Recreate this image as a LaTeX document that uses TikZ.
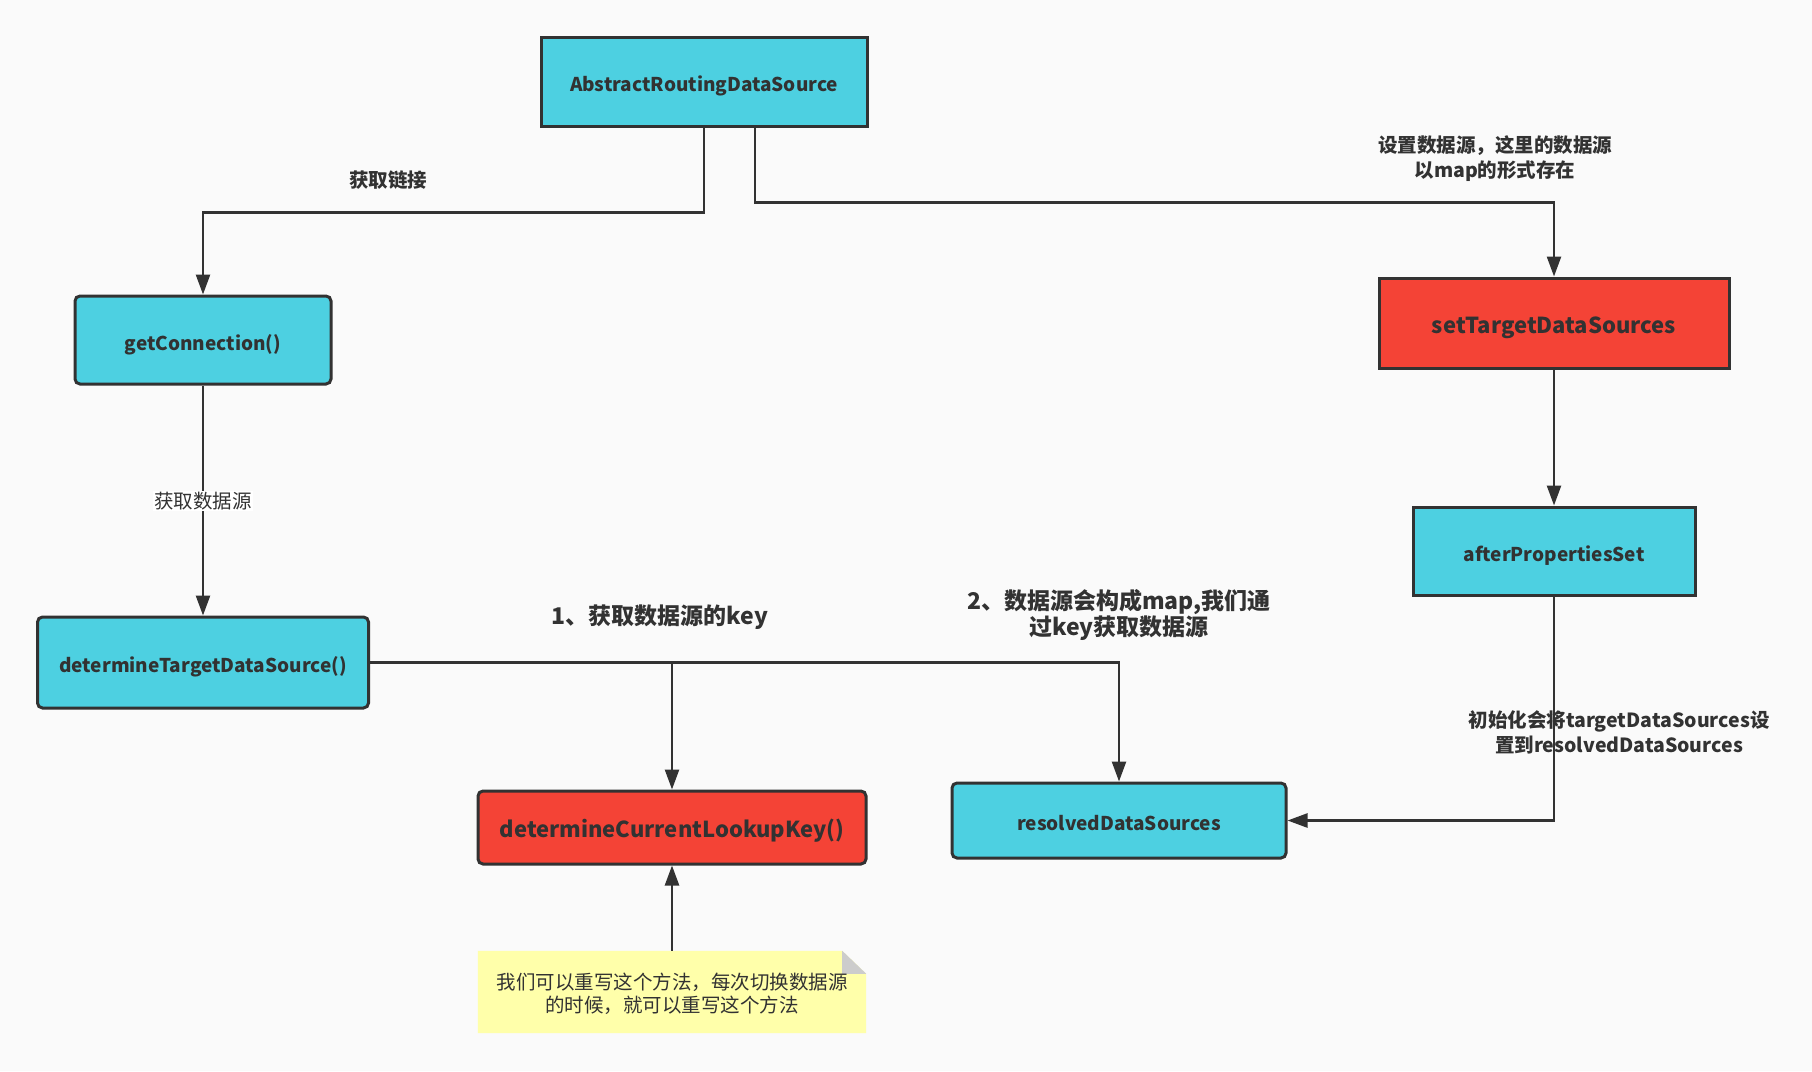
\documentclass[tikz,border=0pt]{standalone}
\usepackage{fontspec}
\setmainfont{Noto Sans CJK SC}
\usetikzlibrary{arrows.meta,calc}
\definecolor{bg}{HTML}{FAFAFA}
\definecolor{cy}{HTML}{4DD0E1}
\definecolor{rd}{HTML}{F44336}
\definecolor{ln}{HTML}{323232}
\definecolor{nt}{HTML}{FFFFAA}
\definecolor{fold}{HTML}{CCCCCC}
\begin{document}
\begin{tikzpicture}[x=1pt,y=-1pt,
 box/.style={draw=ln, line width=3pt, inner sep=0pt, text=ln, text height=22pt, text depth=2pt, font=\bfseries\fontsize{19}{23}\selectfont},
 cyanbox/.style={box, fill=cy},
 redbox/.style={box, fill=rd},
 rbox/.style={rounded corners=5pt},
 arr/.style={draw=ln, line width=2.5pt, -{Triangle[length=20pt,width=14pt]}},
 lbl/.style={text=ln, align=center, inner sep=1pt, font=\bfseries\fontsize{19.5}{25}\selectfont},
 biglbl/.style={text=ln, align=center, inner sep=1pt, font=\bfseries\fontsize{23}{26}\selectfont},
 plainlbl/.style={text=ln, align=center, inner sep=1pt, font=\fontsize{19.5}{23.5}\selectfont},
]
\fill[bg] (0,0) rectangle (1812,1071);
\useasboundingbox (0,0) rectangle (1812,1071);

\node[cyanbox, minimum width=326pt, minimum height=89pt] (ards) at (704,81.5) {AbstractRoutingDataSource};
\node[cyanbox, rbox, minimum width=256pt, minimum height=88pt] (getc) at (203,340) {getConnection()};
\node[cyanbox, rbox, minimum width=331pt, minimum height=91pt] (dts) at (203,662.5) {determineTargetDataSource()};
\node[redbox, minimum width=350pt, minimum height=90pt, font=\bfseries\fontsize{22}{26}\selectfont] (st) at (1554,323) {setTargetDataSources};
\node[cyanbox, minimum width=282pt, minimum height=88pt] (aps) at (1554,551) {afterPropertiesSet};
\node[redbox, rbox, minimum width=388pt, minimum height=73pt, font=\bfseries\fontsize{22}{26}\selectfont] (dcl) at (672,827.5) {determineCurrentLookupKey()};
\node[cyanbox, rbox, minimum width=334pt, minimum height=75pt] (rds) at (1119,820.5) {resolvedDataSources};

% note with folded corner
\node[minimum width=388pt, minimum height=82pt, inner sep=0pt] (note) at (672,992) {};
\fill[nt] (note.north west) -- ($(note.north east)+(-24,0)$) -- ($(note.north east)+(0,23)$) -- (note.south east) -- (note.south west) -- cycle;
\fill[fold] ($(note.north east)+(-24,0)$) -- ($(note.north east)+(0,23)$) -- ($(note.north east)+(-24,23)$) -- cycle;
\node[plainlbl] (notetext) at ($(note.center)+(0,2)$) {我们可以重写这个方法，每次切换数据源\\的时候，就可以重写这个方法};

% connectors
\draw[arr] (ards.south) -- ++(0,85) -| (getc.north);
\draw[arr] ($(ards.south)+(51,0)$) -- ++(0,75) -| (st.north);
\draw[arr] (st.south) -- (aps.north);
\draw[arr] (getc.south) -- (dts.north);
\draw[arr] (dts.east) -| (rds.north);
\draw[arr] (dts.east -| dcl.north) -- (dcl.north);
\draw[arr] (aps.south) |- (rds.east);
\draw[arr] (note.north) -- (dcl.south);

% labels
\node[plainlbl, fill=white] (l2) at (203,501) {获取数据源};
\node[lbl] (l1) at (388,180) {获取链接};
\node[lbl] (l3) at (1495,158.5) {设置数据源，这里的数据源\\以map的形式存在};
\node[biglbl] (l4) at (660,617) {1、获取数据源的key};
\node[biglbl] (l5) at (1119,615) {2、数据源会构成map,我们通\\过key获取数据源};
\node[lbl] (l6) at (1619,732) {初始化会将targetDataSources设\\置到resolvedDataSources};
\end{tikzpicture}
\end{document}
